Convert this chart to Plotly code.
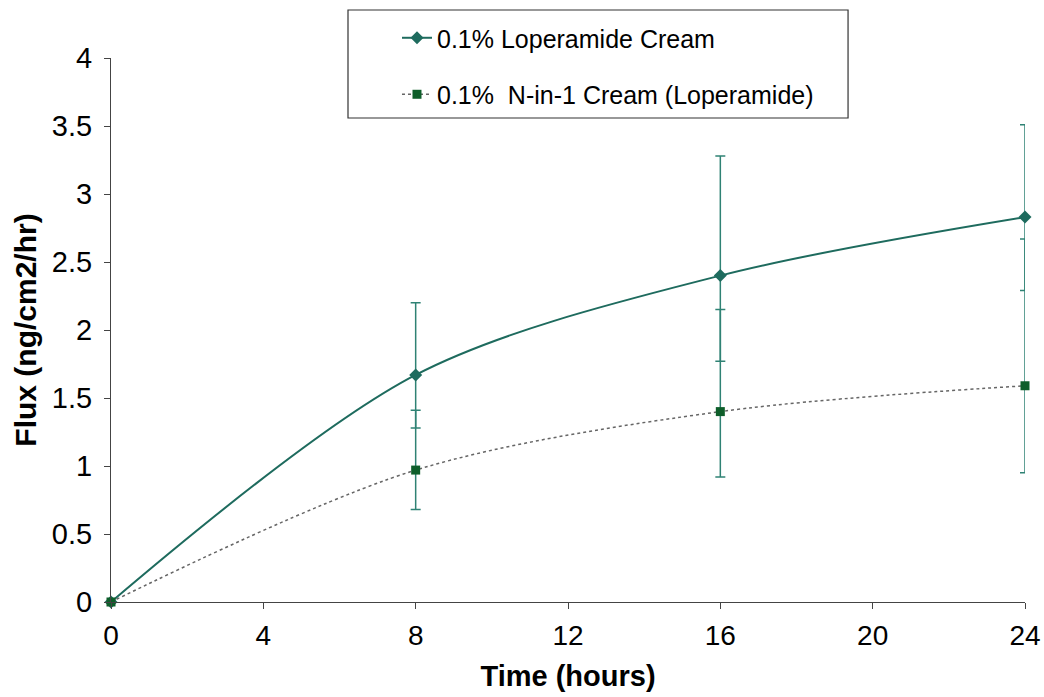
import plotly.graph_objects as go

time_h = [0, 8, 16, 24]
lop_cream = [0, 1.67, 2.40, 2.83]
lop_upper = [0, 2.20, 3.28, 3.51]
lop_lower = [0, 1.28, 1.77, 2.29]
nin1_cream = [0, 0.97, 1.40, 1.59]
nin1_upper = [0, 1.41, 2.15, 2.67]
nin1_lower = [0, 0.68, 0.92, 0.95]

x_ticks = [0, 4, 8, 12, 16, 20, 24]
y_ticks = [0, 0.5, 1, 1.5, 2, 2.5, 3, 3.5, 4]

teal = "#1E6B5E"
err_col = "#2F8274"
sq_col = "#0E5E2A"

fig = go.Figure()
fig.add_trace(go.Scatter(
    x=time_h, y=lop_cream, name="0.1% Loperamide Cream",
    mode="lines+markers", line=dict(color=teal, width=2, shape="spline", smoothing=0.9),
    marker=dict(symbol="diamond", size=10, color=teal),
    error_y=dict(type="data", symmetric=False,
                 array=[u - v for u, v in zip(lop_upper, lop_cream)],
                 arrayminus=[v - l for v, l in zip(lop_cream, lop_lower)],
                 color=err_col, thickness=1.5, width=5),
    legendgroup="a",
))
fig.add_trace(go.Scatter(
    x=time_h, y=nin1_cream, name="0.1%  N-in-1 Cream (Loperamide)",
    mode="lines+markers", line=dict(color="#666666", width=1.5, dash="dot", shape="spline", smoothing=0.9),
    marker=dict(symbol="square", size=9, color=sq_col),
    error_y=dict(type="data", symmetric=False,
                 array=[u - v for u, v in zip(nin1_upper, nin1_cream)],
                 arrayminus=[v - l for v, l in zip(nin1_cream, nin1_lower)],
                 color=err_col, thickness=1.5, width=5),
    legendgroup="b",
))

font_main = "Liberation Sans, Arial, sans-serif"
fig.update_layout(
    width=1044, height=697,
    margin=dict(l=111, r=19, t=58, b=95, autoexpand=False),
    plot_bgcolor="white", paper_bgcolor="white",
    font=dict(family=font_main, size=20, color="black"),
    showlegend=True,
    legend=dict(x=0.3129, y=1.079, xanchor="left", yanchor="top",
                traceorder="grouped", tracegroupgap=21,
                font=dict(size=25, family=font_main),
                bgcolor="rgba(0,0,0,0)", borderwidth=0),
    xaxis=dict(range=[0, 24], tickvals=x_ticks, ticks="outside", ticklen=6,
               tickcolor="#444", showline=True, linecolor="#444", linewidth=1.2,
               showgrid=False, zeroline=False, ticklabelstandoff=2,
               ticklabeloverflow="allow", automargin=False,
               tickfont=dict(family=font_main, size=28),
               title=dict(text="<b>Time (hours)</b>", font=dict(size=29), standoff=15)),
    yaxis=dict(range=[0, 4], tickvals=y_ticks, ticks="outside", ticklen=6,
               tickcolor="#444", showline=True, linecolor="#444", linewidth=1.2,
               showgrid=False, zeroline=False, ticklabelstandoff=6,
               automargin=False,
               tickfont=dict(family=font_main, size=29),
               title=dict(text="<b>Flux (ng/cm2/hr)</b>", font=dict(size=30), standoff=6)),
    shapes=[dict(type="rect", xref="paper", yref="paper",
                 x0=0.2593, x1=0.8064, y0=0.8897, y1=1.0882,
                 line=dict(color="#333", width=1.2), fillcolor="rgba(0,0,0,0)")],
)
fig.update_traces(cliponaxis=False)

fig.write_html("out.html", config={"displayModeBar": False},
               post_script="document.body.style.margin='0';document.body.style.overflow='hidden';")
